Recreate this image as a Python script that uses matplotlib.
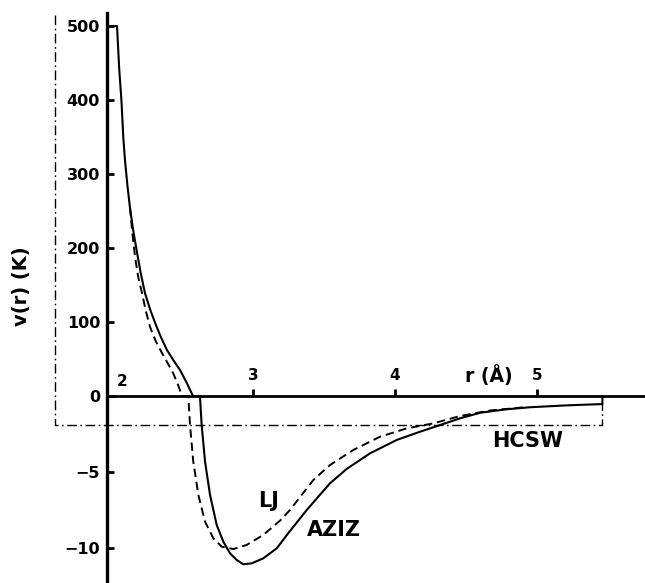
import numpy as np
import matplotlib
matplotlib.use("Agg")
import matplotlib.pyplot as plt

plt.rcParams['font.family'] = ['DejaVu Sans']
plt.rcParams['font.weight'] = 'bold'
plt.rcParams['lines.scale_dashes'] = False

# ---- data (r in Angstrom, v in K) ----
aziz_r = [1.972, 2.042, 2.058, 2.073, 2.086, 2.098, 2.115, 2.133, 2.155, 2.18, 2.21, 2.239,
          2.275, 2.31, 2.35, 2.394, 2.44, 2.486, 2.53, 2.577, 2.626,
          2.638, 2.662, 2.697, 2.744, 2.791, 2.838, 2.885, 2.931, 2.990, 3.072, 3.167,
          3.25, 3.378, 3.542, 3.659, 3.824, 4.012, 4.176, 4.317, 4.457, 4.6, 4.78,
          4.95, 5.2, 5.46, 5.46]
aziz_v = [500, 500, 440, 400, 350, 319, 285, 255, 225, 197, 165, 139,
          117, 99, 80, 62, 48, 35, 19, 0, 0,
          -1.91, -4.32, -6.51, -8.49, -9.59, -10.35, -10.79, -11.07, -11.01, -10.68, -10.02,
          -9.0, -7.5, -5.74, -4.8, -3.77, -2.89, -2.35, -1.91, -1.47, -1.1, -0.88,
          -0.74, -0.62, -0.53, 0]

lj_r = [2.133, 2.15, 2.169, 2.19, 2.218, 2.245, 2.275, 2.315, 2.359, 2.40, 2.437, 2.47,
        2.50, 2.544,
        2.556, 2.579, 2.615, 2.662, 2.720, 2.779, 2.861, 2.955, 3.072, 3.19, 3.26, 3.424,
        3.542, 3.706, 3.894, 4.082, 4.27, 4.457, 4.67, 4.9]
lj_v = [255, 220, 188, 162, 139, 115, 93, 74, 58, 44, 31, 16,
        0, 0,
        -1.91, -4.32, -6.51, -8.27, -9.36, -9.91, -10.07, -9.80, -9.14, -8.2, -7.5, -5.53,
        -4.54, -3.55, -2.68, -2.13, -1.80, -1.32, -0.95, -0.75]

hcsw_r = [1.605, 1.605, 5.46, 5.46]
hcsw_v = [515, -1.88, -1.88, -0.53]

ytick_vals = [500, 400, 300, 200, 100, 0, -5, -10]
ytick_labels = ['500', '400', '300', '200', '100', '0', '\u22125', '\u221210']
xtick_vals = [3, 4, 5]
xtick_labels = ['3', '4', '5']

# broken y scale: positive part 0.74 px/K, negative part 15.2 px/K
def fwd(v):
    v = np.asarray(v, dtype=float)
    return np.where(v >= 0, v * 0.74, v * 15.2)

def inv(y):
    y = np.asarray(y, dtype=float)
    return np.where(y >= 0, y / 0.74, y / 15.2)

fig = plt.figure(figsize=(6.45, 5.83), dpi=100)
ax = fig.add_axes([0, 0, 1, 1])
ax.set_yscale('function', functions=(fwd, inv))
ax.set_xlim(1.218, 5.760)
ax.set_ylim(-187 / 15.2, 396 / 0.74)
ax.patch.set_alpha(0)

ax.plot(aziz_r, aziz_v, color='black', lw=1.5, solid_joinstyle='round')
ax.plot(lj_r, lj_v, color='black', lw=1.4, dashes=(6, 3.5), dash_joinstyle='round')
ax.plot(hcsw_r, hcsw_v, color='black', lw=1.0, dashes=(7, 2.5, 1.2, 2.5))

# spines
for s in ['right', 'bottom']:
    ax.spines[s].set_visible(False)
ax.spines['left'].set_position(('data', 1.972))
ax.spines['left'].set_bounds(-12.3, 517)
ax.spines['left'].set_linewidth(2.4)
ax.spines['top'].set_position(('data', 0))
ax.spines['top'].set_bounds(1.972, 5.76)
ax.spines['top'].set_linewidth(2.0)

ax.set_yticks(ytick_vals)
ax.set_yticklabels(ytick_labels)
ax.yaxis.set_minor_locator(matplotlib.ticker.NullLocator())
ax.tick_params(axis='y', direction='in', length=5, width=2, pad=5, labelsize=11.5)

ax.xaxis.set_ticks_position('top')
ax.set_xticks(xtick_vals)
ax.set_xticklabels(xtick_labels)
ax.tick_params(axis='x', direction='out', length=5, width=2, pad=4, labelsize=11)

ax.text(2.08, 20, '2', ha='center', va='center', fontsize=11, fontweight='bold')
ax.text(4.662, 28, 'r (\u00c5)', ha='center', va='center', fontsize=13.5, fontweight='bold')
ax.text(0.033, 1 - 286 / 583, 'v(r) (K)', transform=ax.transAxes, rotation=90,
        ha='center', va='center', fontsize=14, fontweight='bold')
ax.text(3.112, -6.9, 'LJ', ha='center', va='center', fontsize=15, fontweight='bold')
ax.text(3.57, -8.8, 'AZIZ', ha='center', va='center', fontsize=15, fontweight='bold')
ax.text(4.93, -2.96, 'HCSW', ha='center', va='center', fontsize=15, fontweight='bold')

fig.savefig('out.png', dpi=100)
